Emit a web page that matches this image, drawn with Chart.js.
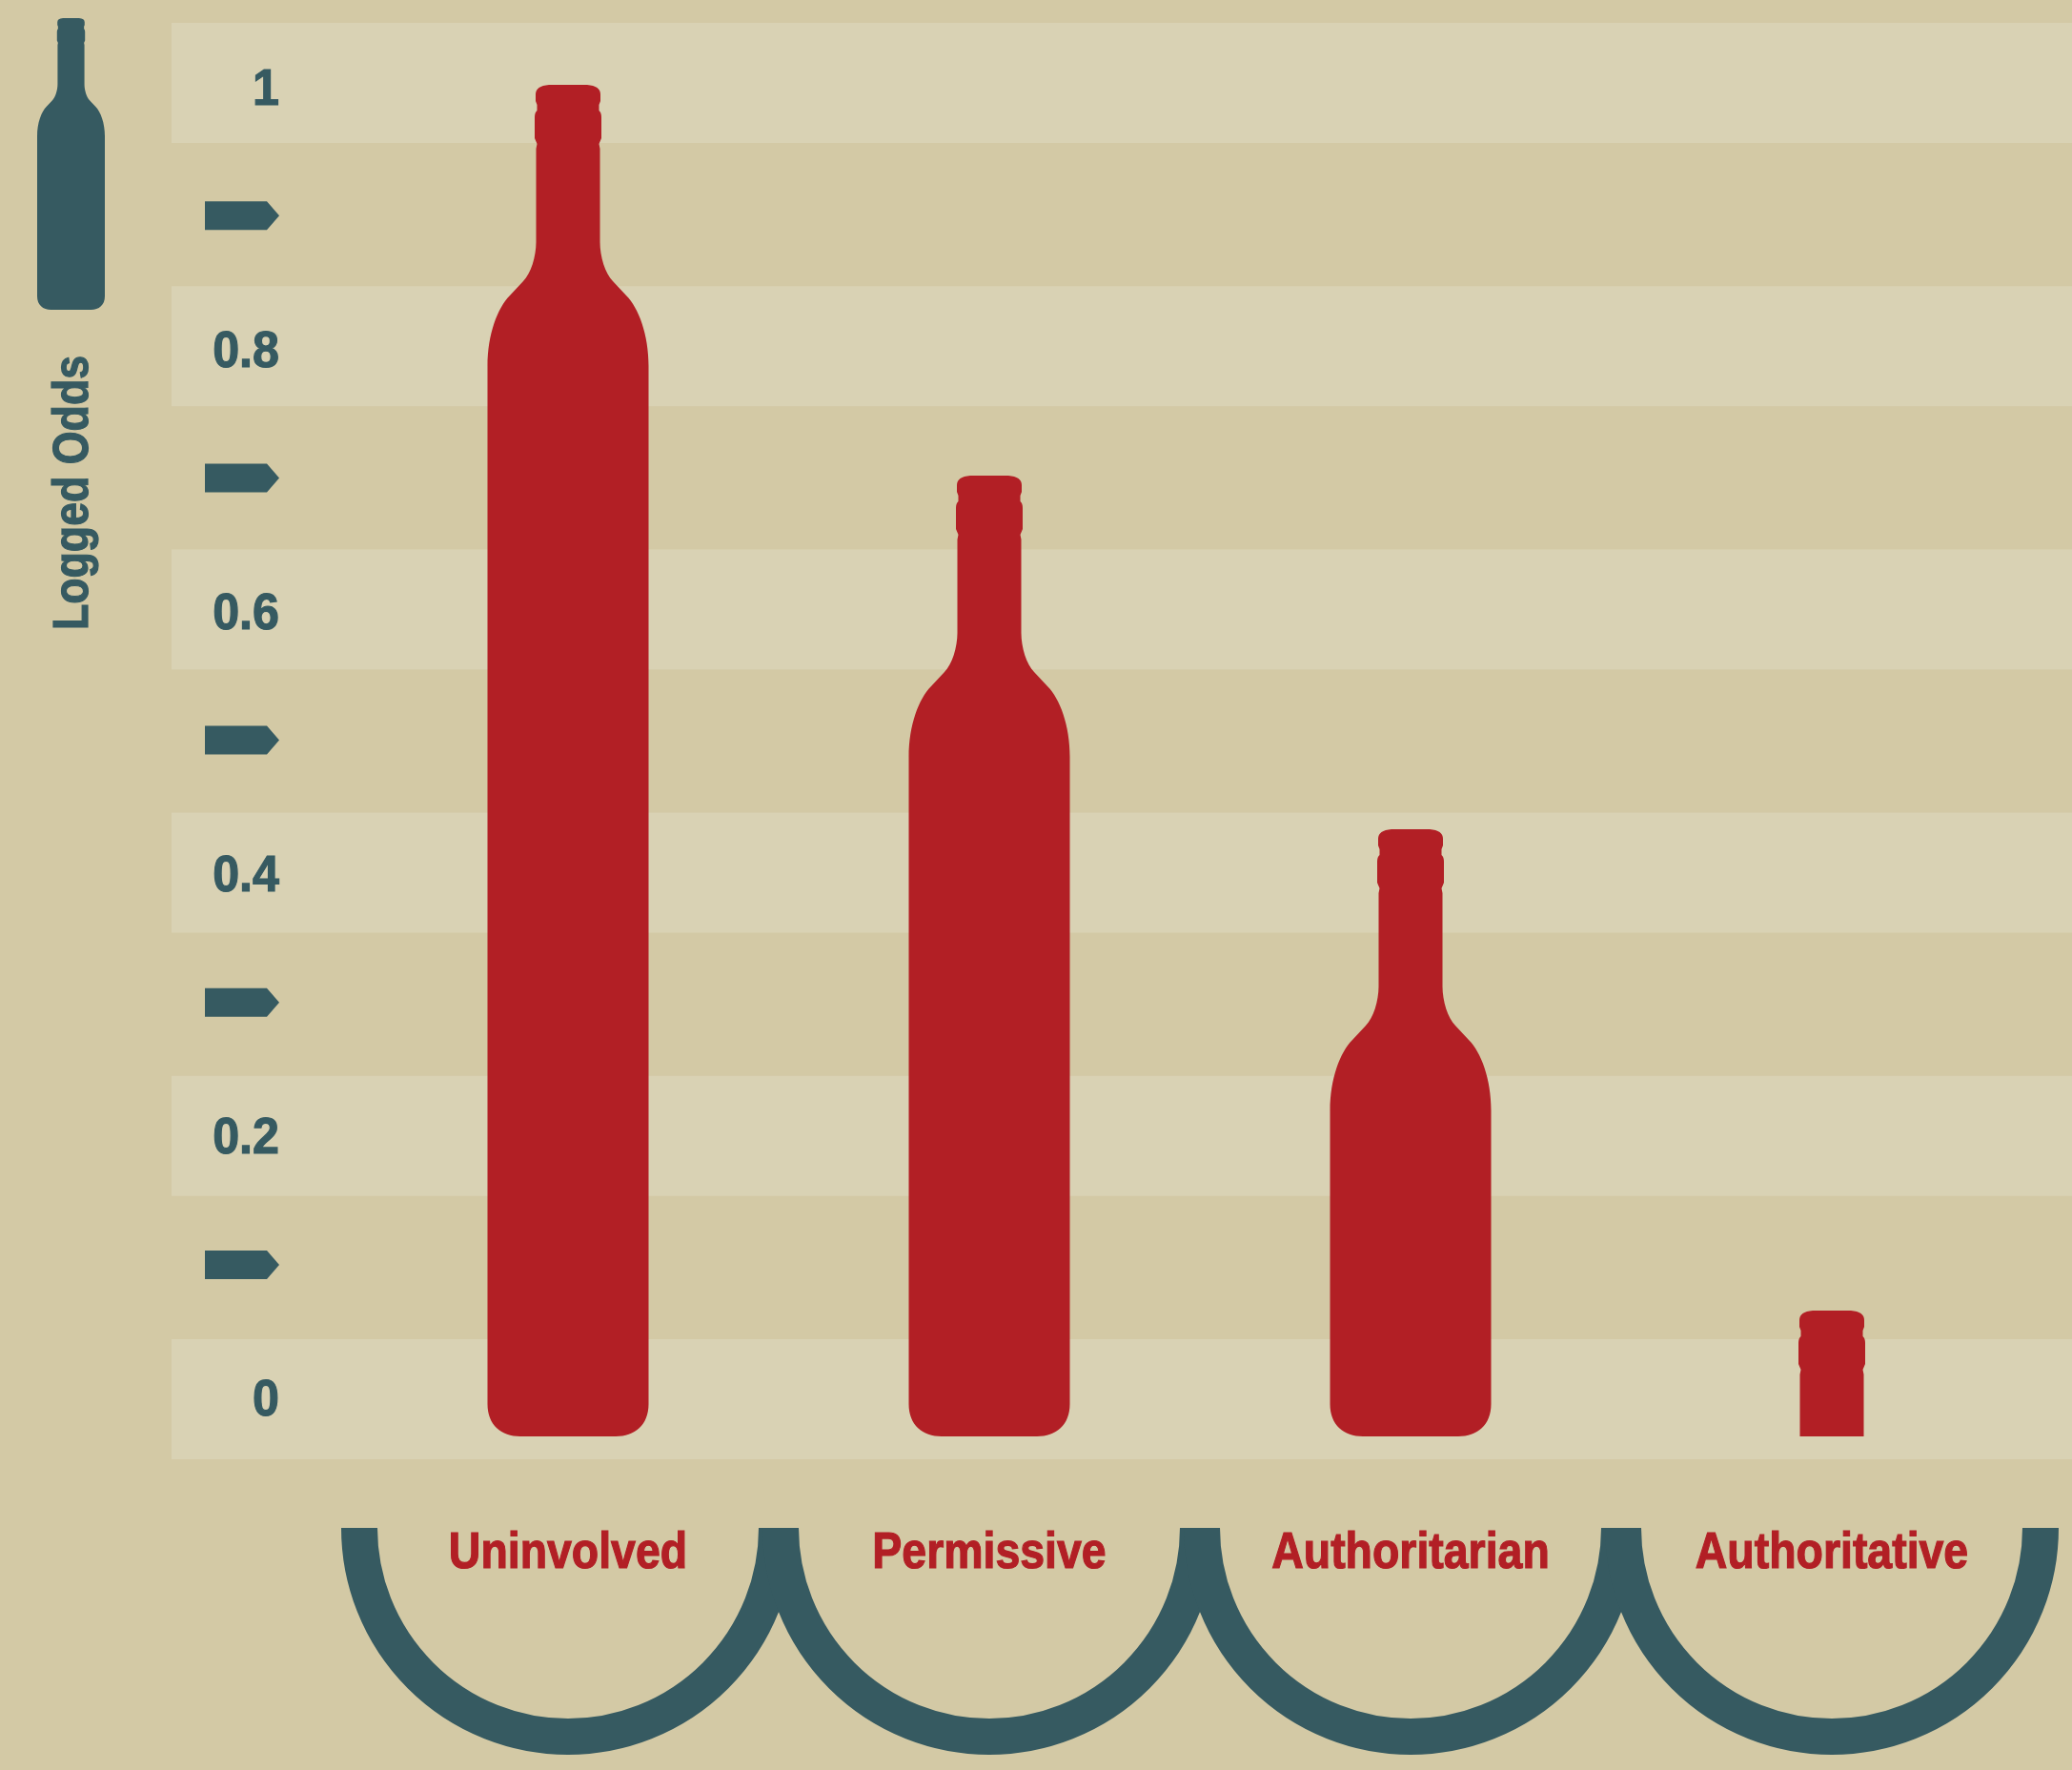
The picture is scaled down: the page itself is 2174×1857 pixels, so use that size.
<!DOCTYPE html>
<html>
<head>
<meta charset="utf-8">
<title>Logged Odds</title>
<script src="https://cdn.jsdelivr.net/npm/chart.js@4/dist/chart.umd.js"></script>
<style>
  html, body { margin: 0; padding: 0; background: #D3C9A5; }
  canvas { display: block; }
</style>
</head>
<body>
<canvas id="bottleChart" width="2174" height="1857"></canvas>
<script>
const categories = ['Uninvolved', 'Permissive', 'Authoritarian', 'Authoritative'];
const loggedOdds = [1.0, 0.702, 0.432, 0.065];
const yTicks = [0, 0.1, 0.2, 0.3, 0.4, 0.5, 0.6, 0.7, 0.8, 0.9, 1];
const yTickLabels = ['0', '', '0.2', '', '0.4', '', '0.6', '', '0.8', '', '1'];

const BG = '#D3C9A5';
const BAND = '#D9D2B4';
const TEAL = '#365A61';
const RED = '#B21F25';
const FONT = '"Liberation Sans", sans-serif';

// right half of the bottle, in units where the body is 169 wide
function traceHalfBottle(ctx, height) {
  const bottom = Math.max(height, 330);
  ctx.beginPath();
  ctx.moveTo(-1, 0);
  ctx.lineTo(20, 0);
  ctx.quadraticCurveTo(34, 1, 34, 10);
  ctx.lineTo(34, 17);
  ctx.lineTo(32.5, 21);
  ctx.lineTo(32.5, 27);
  ctx.quadraticCurveTo(35, 29, 35, 34);
  ctx.lineTo(35, 56);
  ctx.lineTo(32.5, 62);
  ctx.lineTo(33.5, 67);
  ctx.lineTo(33.5, 165);
  ctx.bezierCurveTo(33.5, 180, 39, 198, 47, 206);
  ctx.lineTo(61, 221);
  ctx.bezierCurveTo(74, 234, 84.5, 262, 84.5, 295);
  ctx.lineTo(84.5, bottom - 34);
  ctx.bezierCurveTo(84.5, bottom - 12, 70, bottom, 50, bottom);
  ctx.lineTo(-1, bottom);
  ctx.closePath();
}

function drawBottle(ctx, cx, top, bottom, width, color) {
  const s = width / 169;
  ctx.save();
  ctx.beginPath();
  ctx.rect(cx - width, top - 2, width * 2, bottom - top + 2);
  ctx.clip();
  ctx.fillStyle = color;
  [1, -1].forEach(side => {
    ctx.save();
    ctx.translate(cx, top);
    ctx.scale(side * s, s);
    traceHalfBottle(ctx, (bottom - top) / s);
    ctx.fill();
    ctx.restore();
  });
  ctx.restore();
}

// bar that paints itself as a bottle
class BottleElement extends Chart.BarElement {
  draw(ctx) {
    const { x, y, base, width } = this.getProps(['x', 'y', 'base', 'width'], true);
    drawBottle(ctx, x, Math.round(y), Math.round(base), width, this.options.backgroundColor);
  }
}
BottleElement.id = 'bottleElement';

class BottleController extends Chart.BarController {}
BottleController.id = 'bottle';
BottleController.defaults = { dataElementType: 'bottleElement' };
BottleController.overrides = Chart.BarController.overrides;

Chart.register(BottleElement, BottleController);

// no condensed face is installed, so squeeze the text through fillText's maxWidth
function condenseText(ctx) {
  ['fillText', 'strokeText'].forEach(name => {
    const original = ctx[name].bind(ctx);
    ctx[name] = (text, x, y) => {
      const squeeze = /^[\d.]+$/.test(text) ? 0.93 : 0.86;
      original(text, x, y, ctx.measureText(text).width * squeeze);
    };
  });
}

const decorations = {
  id: 'decorations',
  install(chart) {
    condenseText(chart.ctx);
  },
  beforeDraw(chart) {
    const { ctx, chartArea, scales: { x, y } } = chart;
    ctx.save();
    ctx.fillStyle = BG;
    ctx.fillRect(0, 0, chart.width, chart.height);

    // six light bands spread over the plot height
    const bandHeight = 126;
    const bandStep = (chartArea.height - bandHeight) / 5;
    ctx.fillStyle = BAND;
    for (let i = 0; i < 6; i++) {
      ctx.fillRect(180, chartArea.top + i * bandStep, chart.width - 180, bandHeight);
    }

    // pointers on the unlabelled ticks
    ctx.fillStyle = TEAL;
    yTicks.forEach((v, i) => {
      if (yTickLabels[i] !== '') return;
      const py = y.getPixelForValue(v);
      ctx.beginPath();
      ctx.moveTo(215, py - 15);
      ctx.lineTo(280, py - 15);
      ctx.lineTo(293, py);
      ctx.lineTo(280, py + 15);
      ctx.lineTo(215, py + 15);
      ctx.closePath();
      ctx.fill();
    });

    // arcs under the category names
    ctx.strokeStyle = TEAL;
    ctx.lineWidth = 38;
    categories.forEach((c, i) => {
      ctx.beginPath();
      ctx.arc(x.getPixelForValue(i), 1603, 219, 0, Math.PI);
      ctx.stroke();
    });

    // bottle icon and axis title
    drawBottle(ctx, 74.5, 19, 325, 71, TEAL);
    ctx.translate(77.5, 517);
    ctx.rotate(-Math.PI / 2);
    ctx.fillStyle = TEAL;
    ctx.strokeStyle = TEAL;
    ctx.lineWidth = 1.2;
    ctx.font = 'bold 52px ' + FONT;
    ctx.textAlign = 'center';
    ctx.textBaseline = 'middle';
    ctx.fillText('Logged Odds', 0, 0);
    ctx.strokeText('Logged Odds', 0, 0);
    ctx.restore();
  }
};

new Chart(document.getElementById('bottleChart'), {
  type: 'bottle',
  data: {
    labels: categories,
    datasets: [{
      label: 'Logged Odds',
      data: loggedOdds,
      backgroundColor: RED,
      barThickness: 169,
      base: -0.031
    }]
  },
  options: {
    responsive: false,
    devicePixelRatio: 1,
    animation: false,
    layout: { padding: { top: 24, right: 31, bottom: 0, left: 0 } },
    plugins: { legend: { display: false }, tooltip: { enabled: false } },
    scales: {
      x: {
        type: 'category',
        grid: { display: false },
        border: { display: false },
        afterFit: scale => { scale.height = 326; },
        ticks: {
          color: RED,
          textStrokeColor: RED,
          textStrokeWidth: 1.2,
          font: { family: FONT, size: 54, weight: 'bold' },
          padding: 59,
          autoSkip: false,
          maxRotation: 0
        }
      },
      y: {
        min: -0.0483,
        max: 1.047,
        grid: { display: false, drawTicks: false },
        border: { display: false },
        afterFit: scale => {
          scale.width = 375;
          scale.paddingTop = 0;
          scale.paddingBottom = 0;
        },
        afterBuildTicks: scale => { scale.ticks = yTicks.map(value => ({ value })); },
        ticks: {
          color: TEAL,
          textStrokeColor: TEAL,
          textStrokeWidth: 1.2,
          font: { family: FONT, size: 54, weight: 'bold', lineHeight: '12px' },
          padding: 82,
          autoSkip: false,
          // the blank first line pushes the number a little below its tick
          callback: (value, i) => ['', yTickLabels[i]]
        }
      }
    }
  },
  plugins: [decorations]
});
</script>
</body>
</html>
